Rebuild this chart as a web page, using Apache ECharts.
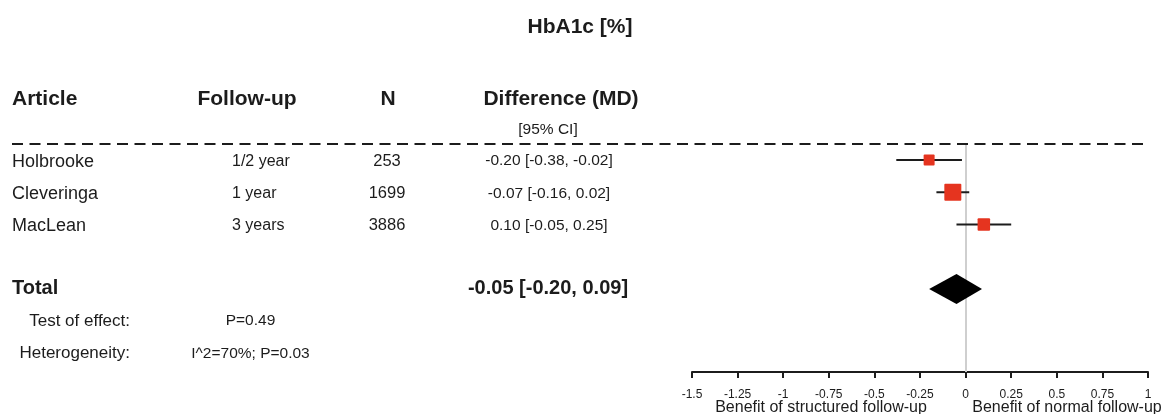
<!DOCTYPE html>
<html>
<head>
<meta charset="utf-8">
<script src="https://cdn.jsdelivr.net/npm/echarts@6/dist/echarts.min.js"></script>
<style>
html,body{margin:0;padding:0;background:#fff;}
#chart{width:1170px;height:414px;}
</style>
</head>
<body>
<div id="chart"></div>
<script>
// ---------- data ----------
const chartTitle = 'HbA1c [%]';
const headers = ['Article', 'Follow-up', 'N', 'Difference (MD)'];
const ciHeader = '[95% CI]';
const articles = ['Holbrooke', 'Cleveringa', 'MacLean'];
const followUp = ['1/2 year', '1 year', '3 years'];
const nPatients = [253, 1699, 3886];
const md = [-0.20, -0.07, 0.10];
const ciLow = [-0.38, -0.16, -0.05];
const ciHigh = [-0.02, 0.02, 0.25];
const totalLabel = 'Total';
const totalMd = [-0.05];
const totalLow = [-0.20];
const totalHigh = [0.09];
const statLabels = ['Test of effect:', 'Heterogeneity:'];
const statValues = ['P=0.49', 'I^2=70%; P=0.03'];
const axisRange = [-1.5, 1];
const axisStep = 0.25;
const sideLabels = ['Benefit of structured follow-up', 'Benefit of normal follow-up'];

// ---------- layout / style ----------
const FF = '"Liberation Sans", Arial, Helvetica, sans-serif';
const INK = '#1c1c1c';
const RED = '#e5341f';
const rowY = [0.5, 1.5, 2.5];
const totalY = 4.5;
const statY = [5.5, 6.5];
const headerY = -1.43;
const ciHeaderY = -0.44;
const sideLabelY = 8.17;
const boxPx = [11, 17, 12.5];
const diamondHalfH = 15;

const fmt = v => v.toFixed(2);
const ciText = (m, l, h) => `${fmt(m)} [${fmt(l)}, ${fmt(h)}]`;

function textColumn(x, ys, texts, font, align, dy) {
  return {
    type: 'custom', xAxisIndex: 1, yAxisIndex: 1, silent: true, z: 5, clip: false,
    data: ys.map(y => [x, y]),
    renderItem: (params, api) => {
      const p = api.coord([api.value(0), api.value(1)]);
      return {
        type: 'text', x: p[0], y: p[1] + (dy || 0),
        style: { text: String(texts[params.dataIndex]), font: font, fill: INK, align: align, verticalAlign: 'middle' }
      };
    }
  };
}

const chart = echarts.init(document.getElementById('chart'), null, { renderer: 'canvas' });

const series = [
  // zero reference line
  {
    type: 'line', xAxisIndex: 0, yAxisIndex: 0, data: [], silent: true, z: 1,
    markLine: {
      silent: true, symbol: 'none', label: { show: false }, z: 1,
      lineStyle: { color: '#cfcfcf', width: 2, type: 'solid' },
      data: [{ xAxis: 0 }], animation: false
    }
  },
  // dashed separator
  {
    type: 'custom', xAxisIndex: 1, yAxisIndex: 1, silent: true, z: 3, clip: false,
    data: [[12, 0, 1148]],
    renderItem: (params, api) => {
      const a = api.coord([api.value(0), api.value(1)]);
      const b = api.coord([api.value(2), api.value(1)]);
      return { type: 'line', shape: { x1: a[0], y1: a[1], x2: b[0], y2: b[1] },
        style: { stroke: INK, lineWidth: 2, lineDash: [11, 6.5] } };
    }
  },
  // study CIs and boxes
  {
    type: 'custom', xAxisIndex: 0, yAxisIndex: 0, silent: true, z: 4, clip: false,
    data: md.map((m, i) => [m, rowY[i], ciLow[i], ciHigh[i]]),
    renderItem: (params, api) => {
      const c = api.coord([api.value(0), api.value(1)]);
      const l = api.coord([api.value(2), api.value(1)]);
      const h = api.coord([api.value(3), api.value(1)]);
      const s = boxPx[params.dataIndex];
      return { type: 'group', children: [
        { type: 'line', shape: { x1: l[0], y1: l[1], x2: h[0], y2: h[1] }, style: { stroke: INK, lineWidth: 2 } },
        { type: 'rect', shape: { x: c[0] - s / 2, y: c[1] - s / 2, width: s, height: s, r: 1 }, style: { fill: RED } }
      ] };
    }
  },
  // pooled diamond
  {
    type: 'custom', xAxisIndex: 0, yAxisIndex: 0, silent: true, z: 4, clip: false,
    data: totalMd.map((m, i) => [m, totalY, totalLow[i], totalHigh[i]]),
    renderItem: (params, api) => {
      const c = api.coord([api.value(0), api.value(1)]);
      const l = api.coord([api.value(2), api.value(1)]);
      const h = api.coord([api.value(3), api.value(1)]);
      return { type: 'polygon', shape: { points: [[l[0], c[1]], [c[0], c[1] - diamondHalfH], [h[0], c[1]], [c[0], c[1] + diamondHalfH]] },
        style: { fill: '#000' } };
    }
  },
  // headers
  textColumn(12, [headerY], [headers[0]], `bold 21px ${FF}`, 'left', 1),
  textColumn(247, [headerY], [headers[1]], `bold 21px ${FF}`, 'center', 1),
  textColumn(388, [headerY], [headers[2]], `bold 21px ${FF}`, 'center', 1),
  textColumn(561, [headerY], [headers[3]], `bold 21px ${FF}`, 'center', 1),
  textColumn(548, [ciHeaderY], [ciHeader], `15.5px ${FF}`, 'center'),
  // study rows
  textColumn(12, rowY, articles, `18px ${FF}`, 'left', 2),
  textColumn(232, rowY, followUp, `16px ${FF}`, 'left', 1),
  textColumn(387, rowY, nPatients, `16.5px ${FF}`, 'center', 1),
  textColumn(549, rowY, md.map((m, i) => ciText(m, ciLow[i], ciHigh[i])), `15.5px ${FF}`, 'center', 1),
  // total rows
  textColumn(12, [totalY], [totalLabel], `bold 20px ${FF}`, 'left'),
  textColumn(548, [totalY], totalMd.map((m, i) => ciText(m, totalLow[i], totalHigh[i])), `bold 20px ${FF}`, 'center'),
  textColumn(130, statY, statLabels, `17px ${FF}`, 'right'),
  textColumn(250.5, statY, statValues, `15.5px ${FF}`, 'center'),
  // axis side labels
  textColumn(821, [sideLabelY], [sideLabels[0]], `16px ${FF}`, 'center'),
  textColumn(1067, [sideLabelY], [sideLabels[1]], `16px ${FF}`, 'center')
];

const yCommon = { type: 'value', min: 0, max: 7.08, inverse: true, show: false };

chart.setOption({
  animation: false,
  backgroundColor: '#fff',
  title: {
    text: chartTitle, left: 580, top: 17, textAlign: 'center', padding: 0,
    textStyle: { fontFamily: FF, fontSize: 21, fontWeight: 'bold', color: INK }
  },
  grid: [
    { left: 692, right: 22, top: 144, bottom: 42, containLabel: false },
    { left: 0, right: 0, top: 144, bottom: 42, containLabel: false }
  ],
  xAxis: [
    {
      gridIndex: 0, type: 'value', min: axisRange[0], max: axisRange[1], interval: axisStep, position: 'bottom',
      axisLine: { show: true, onZero: false, lineStyle: { color: INK, width: 2 } },
      axisTick: { show: true, inside: false, length: 6, lineStyle: { color: INK, width: 2 } },
      axisLabel: { show: true, fontFamily: FF, fontSize: 12, color: INK, margin: 17, formatter: v => String(v) },
      splitLine: { show: false }
    },
    { gridIndex: 1, type: 'value', min: 0, max: 1170, show: false }
  ],
  yAxis: [
    Object.assign({ gridIndex: 0 }, yCommon),
    Object.assign({ gridIndex: 1 }, yCommon)
  ],
  series: series
});
</script>
</body>
</html>
